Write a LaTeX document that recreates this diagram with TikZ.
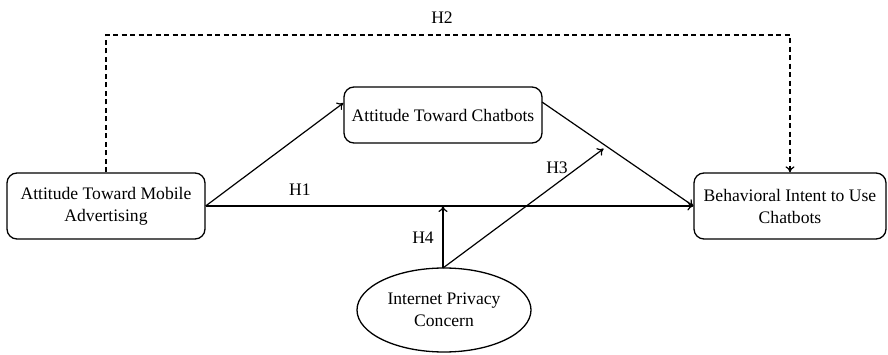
\documentclass[tikz,border=0pt]{standalone}
\usepackage{fontspec}
\setmainfont{Liberation Serif}
\usetikzlibrary{arrows.meta,shapes.geometric,calc}
\begin{document}
\begin{tikzpicture}[x=1pt,y=-1pt,
  every node/.style={font=\fontsize{17.6}{22}\selectfont, inner sep=0pt},
  rbox/.style={draw, line width=1.3pt, rounded corners=10pt, align=center},
  conn/.style={line width=1.2pt, -{To[length=6pt,width=9pt]}},
  dconn/.style={line width=1.2pt, dash pattern=on 5pt off 3.5pt, -{To[length=6pt,width=9pt]}},
  lbl/.style={font=\fontsize{17.6}{22}\selectfont}
]
\useasboundingbox (0,0) rectangle (888,355);
\node[rbox, minimum width=198pt, minimum height=66pt] (atma) at (106,206) {Attitude Toward Mobile\\Advertising};
\node[rbox, minimum width=198pt, minimum height=56pt] (atc) at (443,115) {Attitude Toward Chatbots};
\node[rbox, minimum width=192pt, minimum height=66pt] (biu) at (790,206) {Behavioral Intent to Use\\Chatbots};
\node[draw, ellipse, line width=1.3pt, minimum width=174pt, minimum height=84pt, align=center] (ipc) at (444,310) {Internet Privacy\\Concern};

\coordinate (atcR) at (542,102);
\coordinate (biuL) at (biu.west);
\coordinate (ipcT) at (443,268);
\coordinate (h4end) at (443,206);
\coordinate (h3end) at ($(atcR)!0.42!(biuL) + (-2,3)$);
\coordinate (h2a) at (106,35);
\coordinate (h2b) at (790,35);

\draw[conn] (atma.east) -- (atc.west |- 0,103);
\draw[conn] (atcR) -- (biuL);
\draw[conn] (atma.east) -- (biuL);
\draw[conn] (ipcT) -- (h4end);
\draw[conn] (ipcT) -- (h3end);
\draw[dconn] (atma.north) -- (h2a) -- (h2b) -- (biu.north);

\node[lbl] (h1) at (300,190) {H1};
\node[lbl] (h2) at (442,18) {H2};
\node[lbl] (h3) at (557,168) {H3};
\node[lbl] (h4) at (423,238) {H4};
\end{tikzpicture}
\end{document}
